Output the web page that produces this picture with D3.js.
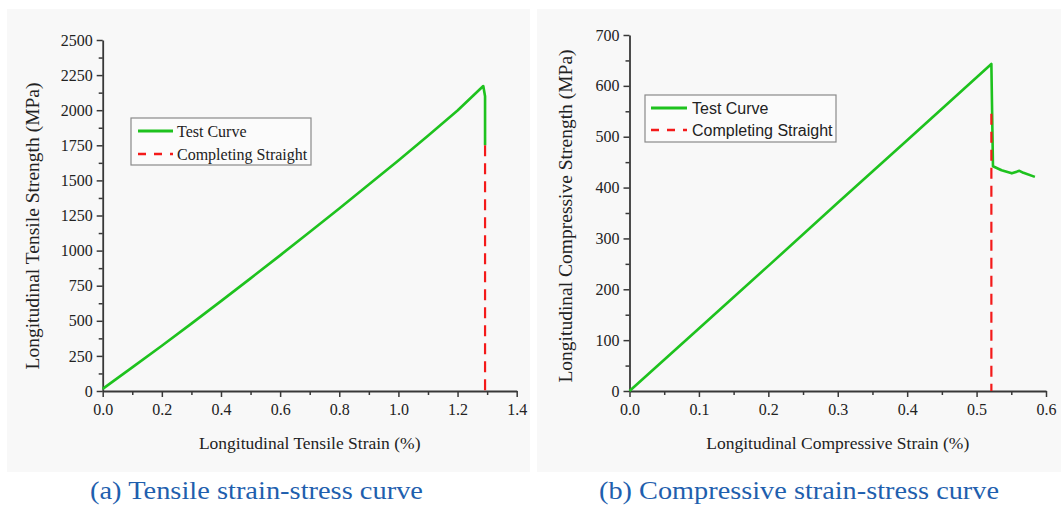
<!DOCTYPE html>
<html>
<head>
<meta charset="utf-8">
<script src="https://cdn.jsdelivr.net/npm/d3@7"></script>
<style>
  html, body { margin: 0; padding: 0; background: #ffffff; }
  svg { display: block; }
</style>
</head>
<body>
<svg id="fig" width="1061" height="507"></svg>
<script>
// Tensile test: strain (%) and stress (MPa)
const tensileStrain = [0, 0.1, 0.2, 0.3, 0.4, 0.5, 0.6, 0.7, 0.8, 0.9, 1.0, 1.1, 1.2, 1.287, 1.293, 1.293];
const tensileStress = [15, 168, 322, 480, 640, 802, 966, 1132, 1300, 1470, 1642, 1818, 1998, 2172, 2100, 1750];
// Completing straight for the tensile curve
const tensileDropStrain = [1.293, 1.293];
const tensileDropStress = [1750, 0];

// Compression test: strain (%) and stress (MPa)
const compStrain = [0, 0.1, 0.2, 0.3, 0.4, 0.5213, 0.5236, 0.536, 0.5507, 0.5617, 0.5675, 0.584];
const compStress = [0, 123, 246, 370, 493, 643, 442, 434, 428, 433, 429, 421];
const compDropStrain = [0.5213, 0.5213];
const compDropStress = [545, 0];

// Axis ticks
const tensileXTicks = [0, 0.2, 0.4, 0.6, 0.8, 1.0, 1.2, 1.4];
const tensileYTicks = [0, 250, 500, 750, 1000, 1250, 1500, 1750, 2000, 2250, 2500];
const compXTicks = [0, 0.1, 0.2, 0.3, 0.4, 0.5, 0.6];
const compYTicks = [0, 100, 200, 300, 400, 500, 600, 700];

const legendLabels = ["Test Curve", "Completing Straight"];
const captions = ["(a) Tensile strain-stress curve", "(b) Compressive strain-stress curve"];

const GREEN = "#1ec21e";
const RED = "#f41a1a";
const AXIS = "#383838";
const SERIF = "Liberation Serif, Times New Roman, serif";

const svg = d3.select("#fig");

function drawPanel(cfg) {
  const g = svg.append("g");
  // panel background
  g.append("rect")
    .attr("x", cfg.bg[0]).attr("y", cfg.bg[1])
    .attr("width", cfg.bg[2]).attr("height", cfg.bg[3])
    .attr("fill", "#f8f8f8");

  const x = d3.scaleLinear().domain(cfg.xDomain).range([cfg.left, cfg.right]);
  const y = d3.scaleLinear().domain(cfg.yDomain).range([cfg.bottom, cfg.top]);

  // minor ticks
  g.append("g")
    .attr("transform", `translate(0,${cfg.bottom})`)
    .call(d3.axisBottom(x).tickValues(cfg.xMinor).tickSize(4).tickFormat(""))
    .call(a => a.select(".domain").remove())
    .selectAll("line").attr("stroke", AXIS).attr("stroke-width", 1.5);
  g.append("g")
    .attr("transform", `translate(${cfg.left},0)`)
    .call(d3.axisLeft(y).tickValues(cfg.yMinor).tickSize(4).tickFormat(""))
    .call(a => a.select(".domain").remove())
    .selectAll("line").attr("stroke", AXIS).attr("stroke-width", 1.5);

  // major axes
  const xa = g.append("g")
    .attr("transform", `translate(0,${cfg.bottom})`)
    .call(d3.axisBottom(x).tickValues(cfg.xTicks).tickSize(6).tickSizeOuter(0).tickPadding(7)
      .tickFormat(d3.format(".1f")));
  const ya = g.append("g")
    .attr("transform", `translate(${cfg.left},0)`)
    .call(d3.axisLeft(y).tickValues(cfg.yTicks).tickSize(6).tickSizeOuter(0).tickPadding(4)
      .tickFormat(d3.format("d")));
  [xa, ya].forEach(a => {
    a.select(".domain").attr("stroke", AXIS).attr("stroke-width", 1.8);
    a.selectAll(".tick line").attr("stroke", AXIS).attr("stroke-width", 1.5);
    a.selectAll(".tick text")
      .attr("fill", "#222")
      .style("font-family", SERIF)
      .style("font-size", "16px");
  });

  const line = d3.line().x(d => x(d[0])).y(d => y(d[1]));

  // test curve
  g.append("path")
    .datum(d3.zip(cfg.curveX, cfg.curveY))
    .attr("d", line)
    .attr("fill", "none").attr("stroke", GREEN).attr("stroke-width", 2.6)
    .attr("stroke-linejoin", "round");

  // completing straight
  g.append("path")
    .datum(d3.zip(cfg.dropX, cfg.dropY))
    .attr("d", line)
    .attr("fill", "none").attr("stroke", RED).attr("stroke-width", 2.2)
    .attr("stroke-dasharray", "11,7");

  // axis titles
  g.append("text")
    .attr("x", (cfg.left + cfg.right) / 2).attr("y", cfg.xLabelY)
    .attr("text-anchor", "middle")
    .style("font-family", SERIF)
    .style("font-size", "17.5px").attr("fill", "#222")
    .text(cfg.xLabel);
  g.append("text")
    .attr("transform", `translate(${cfg.yLabelX},${cfg.yLabelMid}) rotate(-90)`)
    .attr("text-anchor", "middle")
    .style("font-family", SERIF)
    .style("font-size", "19.5px").attr("fill", "#222")
    .text(cfg.yLabel);

  // legend
  const L = cfg.legend;
  g.append("rect")
    .attr("x", L.x).attr("y", L.y).attr("width", L.w).attr("height", L.h)
    .attr("fill", "#fbfbfb").attr("stroke", "#8a8a8a").attr("stroke-width", 1.2);
  legendLabels.forEach((lab, i) => {
    const cy = L.y + L.rowY[i];
    g.append("line")
      .attr("x1", L.x + L.lineX[0]).attr("x2", L.x + L.lineX[1])
      .attr("y1", cy).attr("y2", cy)
      .attr("stroke", i === 0 ? GREEN : RED)
      .attr("stroke-width", i === 0 ? 2.8 : 2.4)
      .attr("stroke-dasharray", i === 0 ? null : "8,8");
    g.append("text")
      .attr("x", L.x + L.textX).attr("y", cy)
      .attr("dy", "0.35em")
      .style("font-family", L.font).style("font-size", L.size + "px").attr("fill", "#222")
      .text(lab);
  });

  // caption
  g.append("text")
    .attr("x", cfg.captionX).attr("y", 499)
    .attr("text-anchor", "middle")
    .style("font-family", SERIF)
    .style("font-size", "26px").attr("fill", "#1f5fae")
    .attr("textLength", cfg.captionW).attr("lengthAdjust", "spacingAndGlyphs")
    .text(cfg.caption);
}

drawPanel({
  bg: [7, 9, 523, 463],
  left: 102.7, right: 516.7, top: 40, bottom: 391,
  xDomain: [0, 1.4], yDomain: [0, 2500],
  xTicks: tensileXTicks, yTicks: tensileYTicks,
  xMinor: d3.range(0.1, 1.4, 0.2), yMinor: d3.range(125, 2500, 250),
  curveX: tensileStrain, curveY: tensileStress,
  dropX: tensileDropStrain, dropY: tensileDropStress,
  xLabel: "Longitudinal Tensile Strain (%)", xLabelY: 449,
  yLabel: "Longitudinal Tensile Strength (MPa)", yLabelX: 39, yLabelMid: 226,
  legend: { x: 131, y: 118, w: 180, h: 47, rowY: [13, 36], lineX: [7, 42], textX: 46,
            font: SERIF, size: 16 },
  caption: captions[0], captionX: 256.5, captionW: 333
});

drawPanel({
  bg: [537, 9, 524, 463],
  left: 629.5, right: 1046, top: 35, bottom: 391,
  xDomain: [0, 0.6], yDomain: [0, 700],
  xTicks: compXTicks, yTicks: compYTicks,
  xMinor: d3.range(0.05, 0.6, 0.1), yMinor: d3.range(50, 700, 100),
  curveX: compStrain, curveY: compStress,
  dropX: compDropStrain, dropY: compDropStress,
  xLabel: "Longitudinal Compressive Strain (%)", xLabelY: 449,
  yLabel: "Longitudinal Compressive Strength (MPa)", yLabelX: 572, yLabelMid: 216,
  legend: { x: 645, y: 95, w: 191, h: 47, rowY: [13, 35], lineX: [6, 42], textX: 47,
            font: "Liberation Sans, Arial, sans-serif", size: 16 },
  caption: captions[1], captionX: 799, captionW: 400
});
</script>
</body>
</html>
